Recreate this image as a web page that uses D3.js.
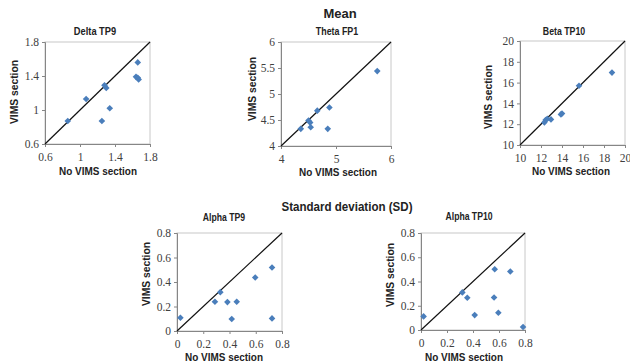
<!DOCTYPE html>
<html><head><meta charset="utf-8">
<script src="https://cdn.jsdelivr.net/npm/d3@7"></script>
<style>
body{margin:0;background:#fff;}
svg{display:block;}
</style></head>
<body><svg id="c" width="630" height="364"></svg>
<script>
// ---- data ----
const panelTitles = ["Delta TP9","Theta FP1","Beta TP10","Alpha TP9","Alpha TP10"];
const sectionTitles = ["Mean","Standard deviation (SD)"];
const xAxisLabel = "No VIMS section";
const yAxisLabel = "VIMS section";

const deltaTP9X = [0.86,1.07,1.28,1.30,1.25,1.34,1.66,1.64,1.66,1.67];
const deltaTP9Y = [0.87,1.13,1.29,1.26,0.87,1.02,1.56,1.39,1.38,1.36];
const thetaFP1X = [4.36,4.50,4.53,4.54,4.66,4.88,4.85,5.75];
const thetaFP1Y = [4.33,4.49,4.45,4.36,4.68,4.74,4.33,5.44];
const betaTP10X = [12.32,12.44,12.6,12.95,13.9,14.0,15.62,18.76];
const betaTP10Y = [12.17,12.4,12.52,12.46,12.94,13.03,15.69,16.96];
const alphaTP9X = [0.026,0.289,0.33,0.384,0.455,0.417,0.596,0.724,0.724];
const alphaTP9Y = [0.108,0.239,0.317,0.236,0.239,0.098,0.437,0.518,0.103];
const alphaTP10X = [0.02,0.318,0.356,0.413,0.567,0.562,0.595,0.687,0.785];
const alphaTP10Y = [0.112,0.31,0.266,0.123,0.501,0.268,0.142,0.482,0.025];

const deltaTicks = [0.6,1,1.4,1.8];
const thetaTicks = [4,4.5,5,5.5,6];
const thetaXTicks = [4,5,6];
const betaTicks = [10,12,14,16,18,20];
const betaYTicks = [10,12,14,16,18,20];
const alphaTicks = [0,0.2,0.4,0.6,0.8];

// ---- layout ----
const panels = [
  {title:panelTitles[0], xs:deltaTP9X, ys:deltaTP9Y, dom:[0.6,1.8], xt:deltaTicks, yt:deltaTicks,
   r:{x0:45,x1:150,y0:42,y1:144}, tt:[95,35], xl:[98,175], yl:[14,92]},
  {title:panelTitles[1], xs:thetaFP1X, ys:thetaFP1Y, dom:[4,6], xt:thetaXTicks, yt:thetaTicks,
   r:{x0:281,x1:391,y0:42,y1:146}, tt:[337,35], xl:[338,176], yl:[252,89]},
  {title:panelTitles[2], xs:betaTP10X, ys:betaTP10Y, dom:[10,20], xt:betaTicks, yt:betaYTicks,
   r:{x0:520,x1:625,y0:41,y1:145}, tt:[564,35], xl:[571,175], yl:[488,97]},
  {title:panelTitles[3], xs:alphaTP9X, ys:alphaTP9Y, dom:[0,0.8], xt:alphaTicks, yt:alphaTicks,
   r:{x0:177,x1:282,y0:233,y1:331}, tt:[224,221], xl:[224,361], yl:[146,274]},
  {title:panelTitles[4], xs:alphaTP10X, ys:alphaTP10Y, dom:[0,0.8], xt:alphaTicks, yt:alphaTicks,
   r:{x0:421,x1:525,y0:233,y1:330}, tt:[469,220], xl:[464,361], yl:[390,275]}
];

const svg = d3.select("#c");
const fmt = d => String(d);

svg.append("text").attr("x",340).attr("y",18).attr("text-anchor","middle")
  .attr("font-family","Liberation Sans, Arial, sans-serif").attr("font-weight","bold")
  .attr("font-size",13).attr("fill","#222").text(sectionTitles[0]);
svg.append("text").attr("x",347).attr("y",211).attr("text-anchor","middle")
  .attr("font-family","Liberation Sans, Arial, sans-serif").attr("font-weight","bold")
  .attr("font-size",13).attr("textLength",131).attr("lengthAdjust","spacingAndGlyphs")
  .attr("fill","#222").text(sectionTitles[1]);

const ds = 3.3;
const diamondPath = `M0,${-ds}L${ds},0L0,${ds}L${-ds},0Z`;

panels.forEach(p => {
  const x = d3.scaleLinear().domain(p.dom).range([p.r.x0,p.r.x1]);
  const y = d3.scaleLinear().domain(p.dom).range([p.r.y1,p.r.y0]);
  const g = svg.append("g");
  // plot border
  g.append("rect").attr("x",p.r.x0).attr("y",p.r.y0)
    .attr("width",p.r.x1-p.r.x0).attr("height",p.r.y1-p.r.y0)
    .attr("fill","none").attr("stroke","#c8c8c8").attr("stroke-width",1);
  const xa = g.append("g").attr("transform",`translate(0,${p.r.y1})`)
    .call(d3.axisBottom(x).tickValues(p.xt).tickFormat(fmt).tickSize(3).tickPadding(6));
  const ya = g.append("g").attr("transform",`translate(${p.r.x0},0)`)
    .call(d3.axisLeft(y).tickValues(p.yt).tickFormat(fmt).tickSize(3).tickPadding(3));
  [xa,ya].forEach(a=>{
    a.selectAll("path,line").attr("stroke","#868686");
    a.selectAll("text").attr("font-family","Liberation Serif, Times New Roman, serif")
      .attr("font-size",11.5).attr("fill","#404040");
  });
  // diagonal
  g.append("line").attr("x1",x(p.dom[0])).attr("y1",y(p.dom[0]))
    .attr("x2",x(p.dom[1])).attr("y2",y(p.dom[1]))
    .attr("stroke","#111").attr("stroke-width",1.2);
  // points
  g.selectAll("path.pt").data(p.xs.map((v,i)=>[v,p.ys[i]])).enter()
    .append("path").attr("class","pt").attr("d",diamondPath)
    .attr("transform",d=>`translate(${x(d[0])},${y(d[1])})`)
    .attr("fill","#4a7ebb");
  // titles
  g.append("text").attr("x",p.tt[0]).attr("y",p.tt[1]).attr("text-anchor","middle")
    .attr("font-family","Liberation Sans, Arial, sans-serif").attr("font-weight","bold")
    .attr("font-size",11).attr("textLength",p.title.length*4.7).attr("lengthAdjust","spacingAndGlyphs")
    .attr("fill","#222").text(p.title);
  g.append("text").attr("x",p.xl[0]).attr("y",p.xl[1]).attr("text-anchor","middle")
    .attr("font-family","Liberation Sans, Arial, sans-serif").attr("font-weight","bold")
    .attr("font-size",11).attr("textLength",78).attr("lengthAdjust","spacingAndGlyphs")
    .attr("fill","#222").text(xAxisLabel);
  g.append("text").attr("transform",`translate(${p.yl[0]},${p.yl[1]}) rotate(-90)`)
    .attr("text-anchor","middle").attr("dy","0.35em")
    .attr("font-family","Liberation Sans, Arial, sans-serif").attr("font-weight","bold")
    .attr("font-size",11.5).attr("textLength",64).attr("lengthAdjust","spacingAndGlyphs")
    .attr("fill","#222").text(yAxisLabel);
});
</script></body></html>
